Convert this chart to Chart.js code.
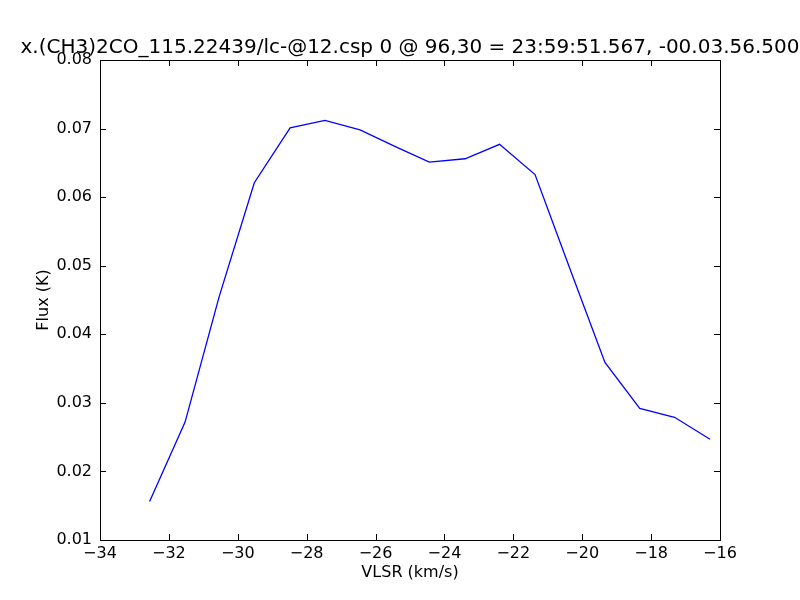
<!DOCTYPE html>
<html>
<head>
<meta charset="utf-8">
<script src="https://cdn.jsdelivr.net/npm/chart.js@4/dist/chart.umd.min.js"></script>
<style>
  html, body { margin: 0; padding: 0; background: #fff; }
  #wrap { width: 800px; height: 600px; }
</style>
</head>
<body>
<div id="wrap"><canvas id="c" width="800" height="600"></canvas></div>
<script>
const TITLE = 'x.(CH3)2CO_115.22439/lc-@12.csp 0 @ 96,30 = 23:59:51.567, -00.03.56.500';
const X_LABEL = 'VLSR (km/s)';
const Y_LABEL = 'Flux (K)';

const VLSR = [-32.56, -31.53, -30.54, -29.52, -28.48, -27.47, -26.45, -25.44, -24.44,
              -23.40, -22.40, -21.37, -20.36, -19.34, -18.33, -17.32, -16.29];
const FLUX = [0.0156, 0.0272, 0.0455, 0.0621, 0.0701, 0.0712, 0.0698, 0.0674, 0.0651,
              0.0656, 0.0677, 0.0633, 0.0496, 0.0359, 0.0292, 0.0279, 0.0247];

const X_TICKS = [-34, -32, -30, -28, -26, -24, -22, -20, -18, -16];
const Y_TICKS = [0.01, 0.02, 0.03, 0.04, 0.05, 0.06, 0.07, 0.08];

const FONT = 'DejaVu Sans';

const frame = {
  id: 'frame',
  afterDraw(chart) {
    const {ctx, chartArea: a, scales} = chart;
    ctx.save();
    ctx.strokeStyle = '#000';
    ctx.lineWidth = 1;
    ctx.beginPath();
    const tl = 6;
    scales.x.ticks.forEach(t => {
      const px = Math.round(scales.x.getPixelForValue(t.value)) + 0.5;
      ctx.moveTo(px, a.bottom); ctx.lineTo(px, a.bottom - tl);
      ctx.moveTo(px, a.top); ctx.lineTo(px, a.top + tl);
    });
    scales.y.ticks.forEach(t => {
      const py = Math.round(scales.y.getPixelForValue(t.value)) + 0.5;
      ctx.moveTo(a.left, py); ctx.lineTo(a.left + tl, py);
      ctx.moveTo(a.right, py); ctx.lineTo(a.right - tl, py);
    });
    ctx.stroke();
    ctx.strokeRect(Math.round(a.left) + 0.5, Math.round(a.top) + 0.5,
                   Math.round(a.right - a.left), Math.round(a.bottom - a.top));
    ctx.fillStyle = '#000';
    ctx.font = '20px "' + FONT + '"';
    ctx.textAlign = 'center';
    ctx.textBaseline = 'alphabetic';
    ctx.fillText(TITLE, (a.left + a.right) / 2, 53);
    ctx.restore();
  }
};

new Chart(document.getElementById('c'), {
  type: 'scatter',
  data: {
    datasets: [{
      data: VLSR.map((v, i) => ({x: v, y: FLUX[i]})),
      showLine: true,
      borderColor: '#0000ff',
      borderWidth: 1.3,
      pointRadius: 0,
      tension: 0,
      fill: false
    }]
  },
  options: {
    responsive: false,
    animation: false,
    layout: { padding: { left: 0, right: 80, top: 60, bottom: 0 } },
    plugins: { legend: { display: false }, tooltip: { enabled: false }, title: { display: false } },
    scales: {
      x: {
        type: 'linear',
        min: -34, max: -16,
        afterBuildTicks: s => { s.ticks = X_TICKS.map(v => ({value: v})); },
        afterFit: s => { s.height = 60; },
        grid: { display: false, drawTicks: false },
        border: { display: false },
        ticks: {
          color: '#000', padding: 4,
          font: { family: FONT, size: 16 },
          callback: v => (v < 0 ? '\u2212' + Math.abs(v) : String(v))
        },
        title: {
          display: true, text: X_LABEL, color: '#000',
          font: { family: FONT, size: 16 },
          padding: { top: 0, bottom: 18 }
        }
      },
      y: {
        type: 'linear',
        min: 0.01, max: 0.08,
        afterBuildTicks: s => { s.ticks = Y_TICKS.map(v => ({value: v})); },
        afterFit: s => { s.width = 100; },
        grid: { display: false, drawTicks: false },
        border: { display: false },
        ticks: {
          color: '#000', padding: 8,
          font: { family: FONT, size: 16 },
          callback: v => Number(v).toFixed(2)
        },
        title: {
          display: true, text: Y_LABEL, color: '#000',
          font: { family: FONT, size: 16 },
          padding: { top: 34, bottom: 0 }
        }
      }
    }
  },
  plugins: [frame]
});
</script>
</body>
</html>
